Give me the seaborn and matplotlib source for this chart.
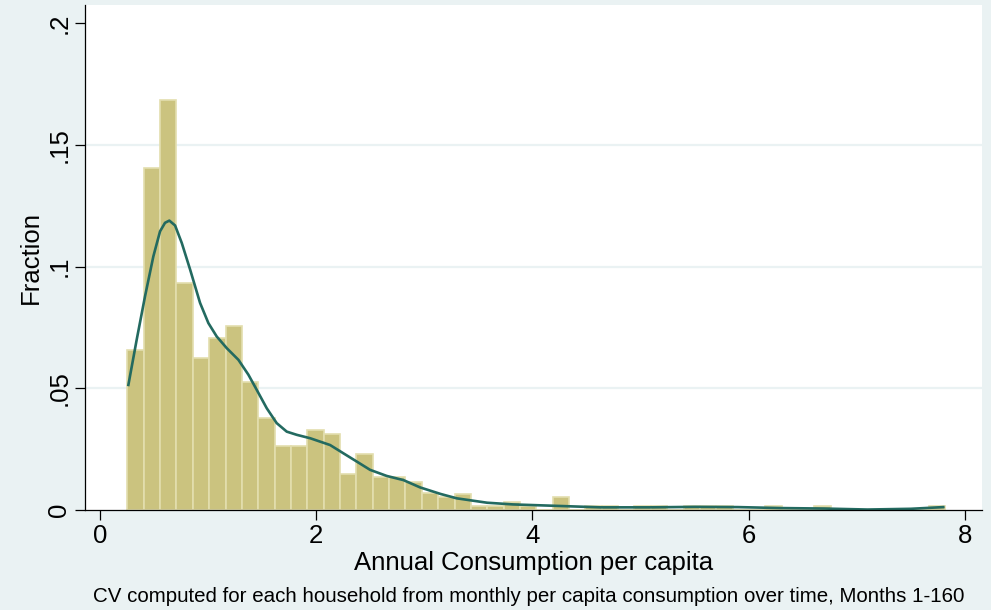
import numpy as np
import pandas as pd
import seaborn as sns
import matplotlib.pyplot as plt

# histogram: 50 equal-width bins between the data min and max, height = fraction
bin_min = 0.253
bin_max = 7.818
fractions = [
    0.0658, 0.1406, 0.1684, 0.0933, 0.0624, 0.0707, 0.0754, 0.0526, 0.0377, 0.0265,
    0.0265, 0.0329, 0.0313, 0.0150, 0.0230, 0.0134, 0.0134, 0.0117, 0.0069, 0.0052,
    0.0066, 0.0017, 0.0017, 0.0034, 0.0017, 0.0000, 0.0052, 0.0000, 0.0017, 0.0017,
    0.0000, 0.0017, 0.0017, 0.0000, 0.0017, 0.0017, 0.0017, 0.0000, 0.0000, 0.0017,
    0.0000, 0.0000, 0.0017, 0.0000, 0.0000, 0.0000, 0.0000, 0.0000, 0.0000, 0.0017,
]

# kernel density overlay
kde_x = [0.262, 0.339, 0.416, 0.493, 0.555, 0.601, 0.641, 0.694, 0.756, 0.833,
         0.925, 1.002, 1.079, 1.172, 1.280, 1.372, 1.449, 1.542, 1.634, 1.727,
         1.819, 1.943, 2.128, 2.251, 2.375, 2.498, 2.652, 2.806, 2.960, 3.150,
         3.300, 3.580, 3.820, 4.160, 4.630, 5.090, 5.500, 5.900, 6.300, 6.700,
         7.100, 7.500, 7.800]
kde_y = [0.0514, 0.0700, 0.0878, 0.1042, 0.1145, 0.1180, 0.1189, 0.1169, 0.1097, 0.0988,
         0.0851, 0.0768, 0.0713, 0.0665, 0.0617, 0.0556, 0.0494, 0.0418, 0.0357, 0.0322,
         0.0309, 0.0295, 0.0267, 0.0233, 0.0199, 0.0165, 0.0140, 0.0123, 0.0093, 0.0066,
         0.0048, 0.0030, 0.0023, 0.0018, 0.0011, 0.0011, 0.0013, 0.0012, 0.0008, 0.0006,
         0.0002, 0.0005, 0.0012]

x_ticks = [0, 2, 4, 6, 8]
y_ticks = [0, 0.05, 0.1, 0.15, 0.2]
y_tick_labels = ['0', '.05', '.1', '.15', '.2']

BG = '#EAF2F3'

plt.rcParams['font.family'] = ['Liberation Sans', 'DejaVu Sans']

fig = plt.figure(figsize=(9.91, 6.10), dpi=100, facecolor=BG)
ax = fig.add_axes([0.0858, 0.1639, 0.9052, 0.828])
ax.set_facecolor('white')

n_bins = len(fractions)
width = (bin_max - bin_min) / n_bins
hist_df = pd.DataFrame({
    'center': bin_min + width * (np.arange(n_bins) + 0.5),
    'fraction': fractions,
})

sns.histplot(data=hist_df, x='center', weights='fraction',
             bins=n_bins, binrange=(bin_min, bin_max), stat='count',
             color='#CBC37F', alpha=1, edgecolor='#E3DEAE', linewidth=1.2,
             ax=ax, zorder=2)
sns.lineplot(x=kde_x, y=kde_y, color='#236A60', linewidth=1.9, ax=ax, zorder=3)

ax.set_xlim(-0.139, 8.159)
ax.set_ylim(0, 0.2075)

ax.set_xticks(x_ticks)
ax.set_xticklabels([str(t) for t in x_ticks], fontsize=18.5)
ax.set_yticks(y_ticks)
ax.set_yticklabels(y_tick_labels, fontsize=18.5, rotation=90, va='center')

for gy in y_ticks[1:-1]:
    ax.axhline(gy, color=BG, linewidth=1.6, zorder=0)

for side in ['top', 'right']:
    ax.spines[side].set_visible(False)
for side in ['left', 'bottom']:
    ax.spines[side].set_color('black')
    ax.spines[side].set_linewidth(0.9)
    ax.spines[side].set_zorder(4)
ax.tick_params(axis='both', direction='out', length=7, width=0.9, color='black', pad=3)

ax.set_xlabel('Annual Consumption per capita', fontsize=18.5)
ax.xaxis.set_label_coords(0.5, -0.082)
ax.set_ylabel('Fraction', fontsize=18.5)
ax.yaxis.set_label_coords(-0.047, 0.5)

fig.text(0.534, 1 - 597 / 610,
         'CV computed for each household from monthly per capita consumption over time, Months 1-160',
         fontsize=14.8, ha='center', va='center')

fig.savefig('out.png', dpi=100, facecolor=BG)
